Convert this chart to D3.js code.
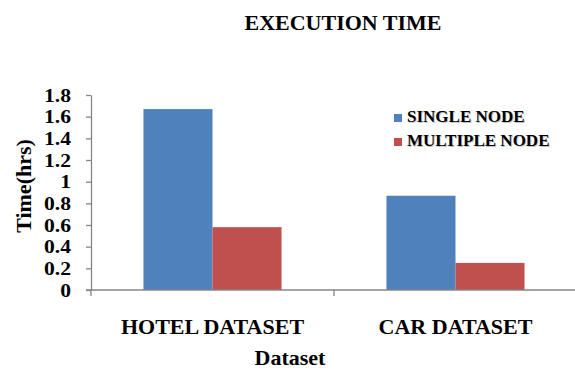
<!DOCTYPE html>
<html>
<head>
<meta charset="utf-8">
<script src="https://cdn.jsdelivr.net/npm/d3@7"></script>
<style>
  html, body { margin: 0; padding: 0; background: #fff; }
</style>
</head>
<body>
<svg id="chart" width="575" height="370"></svg>
<script>
// Execution time per dataset, single vs multiple node (hours)
const categories = ["HOTEL DATASET", "CAR DATASET"];
const seriesNames = ["SINGLE NODE", "MULTIPLE NODE"];
const singleNode = [1.67, 0.87];
const multipleNode = [0.58, 0.25];
const yTicks = [0, 0.2, 0.4, 0.6, 0.8, 1, 1.2, 1.4, 1.6, 1.8];
const colors = ["#4F81BD", "#C0504D"];

const seriesValues = [singleNode, multipleNode];
const rows = categories.map((c, i) => ({
  category: c,
  values: seriesNames.map((s, j) => ({ series: s, value: seriesValues[j][i] }))
}));

const FONT = "'Liberation Serif', 'Times New Roman', serif";
const serif = (sel, size) => sel
  .style("font-family", FONT)
  .style("font-weight", "bold")
  .style("font-size", size + "px")
  .style("fill", "#000");

const svg = d3.select("#chart");
const plot = { left: 91, right: 577, top: 95, bottom: 290 };
const axisColor = "#868686";

const x0 = d3.scaleBand().domain(categories).range([plot.left, plot.right]).padding(0);
const x1 = d3.scaleBand().domain(seriesNames).range([0, x0.bandwidth()])
  .paddingInner(0).paddingOuter(0.76);
const y = d3.scaleLinear().domain([0, 1.8]).range([plot.bottom, plot.top]);
const color = d3.scaleOrdinal().domain(seriesNames).range(colors);

// title
serif(svg.append("text"), 22)
  .attr("x", 343).attr("y", 30)
  .attr("text-anchor", "middle")
  .text("EXECUTION TIME");

// bars
const groups = svg.append("g").selectAll("g")
  .data(rows).join("g")
  .attr("transform", d => `translate(${x0(d.category)},0)`);

groups.selectAll("rect")
  .data(d => d.values).join("rect")
  .attr("x", d => x1(d.series))
  .attr("y", d => y(d.value))
  .attr("width", x1.bandwidth())
  .attr("height", d => y(0) - y(d.value))
  .attr("fill", d => color(d.series));

// y axis; labels are wide, short bold numerals
const yAxis = svg.append("g")
  .attr("transform", `translate(${plot.left},0)`)
  .call(d3.axisLeft(y).tickValues(yTicks).tickFormat(d3.format("~g"))
    .tickSizeInner(5).tickSizeOuter(0).tickPadding(15));
yAxis.attr("font-family", null).attr("font-size", null);
yAxis.select(".domain").attr("stroke", axisColor).attr("stroke-width", 1.3);
yAxis.selectAll(".tick line").attr("stroke", axisColor).attr("stroke-width", 1.3);
serif(yAxis.selectAll(".tick text"), 18)
  .attr("x", 0)
  .attr("dy", "0.35em")
  .attr("transform", "translate(-20,0) scale(1.2,1)");

// x axis with ticks on category boundaries
const xAxisG = svg.append("g");
xAxisG.append("line")
  .attr("x1", plot.left - 5).attr("x2", plot.right)
  .attr("y1", y(0)).attr("y2", y(0))
  .attr("stroke", axisColor).attr("stroke-width", 1.5);
const boundaries = categories.map(c => x0(c)).concat([x0(categories[categories.length - 1]) + x0.bandwidth()]);
xAxisG.selectAll("line.tick")
  .data(boundaries).join("line")
  .attr("class", "tick")
  .attr("x1", d => d).attr("x2", d => d)
  .attr("y1", y(0)).attr("y2", y(0) + 6)
  .attr("stroke", axisColor).attr("stroke-width", 1.3);

// category labels
serif(svg.append("g").selectAll("text")
  .data(categories).join("text"), 22)
  .attr("x", d => x0(d) + x0.bandwidth() / 2)
  .attr("y", 334)
  .attr("text-anchor", "middle")
  .text(d => d);

// axis titles
serif(svg.append("text"), 22)
  .attr("x", 290).attr("y", 365)
  .attr("text-anchor", "middle")
  .text("Dataset");

serif(svg.append("text"), 22)
  .attr("transform", "translate(31,186) rotate(-90)")
  .attr("text-anchor", "middle")
  .text("Time(hrs)");

// legend: swatch, a faint offset copy of the label as its shadow, then the label
const legend = svg.append("g").selectAll("g")
  .data(seriesNames).join("g")
  .attr("transform", (d, i) => `translate(394,${122 + i * 24})`);
legend.append("rect")
  .attr("x", 0).attr("y", -8)
  .attr("width", 8).attr("height", 8)
  .attr("fill", d => color(d));
serif(legend.append("text"), 17)
  .attr("x", 14).attr("y", 1)
  .style("fill", "#000").style("fill-opacity", 0.25)
  .text(d => d);
serif(legend.append("text"), 17)
  .attr("x", 13).attr("y", 0)
  .text(d => d);
</script>
</body>
</html>
